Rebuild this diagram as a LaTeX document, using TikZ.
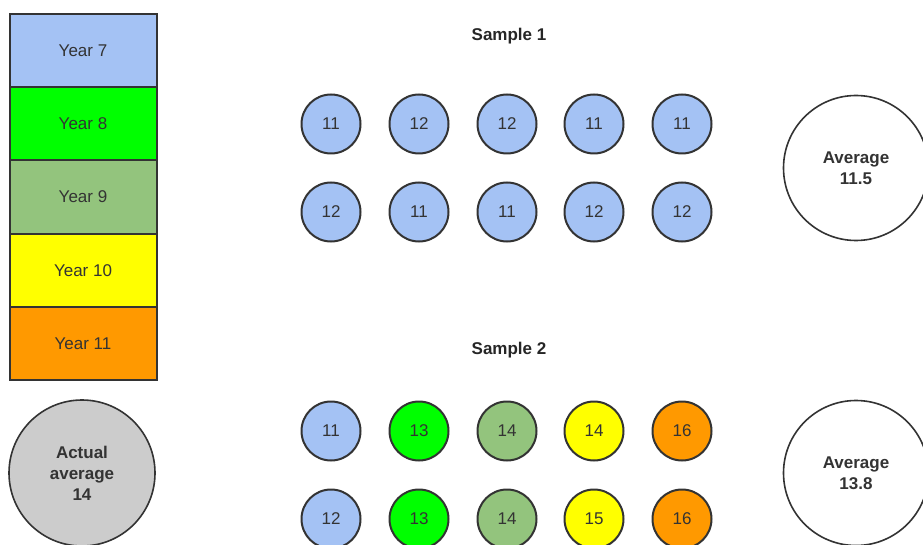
\documentclass[tikz,border=0pt]{standalone}
\usepackage{fontspec}
\setmainfont{Liberation Sans}
\usepackage{tikz}
\usetikzlibrary{positioning}
\definecolor{yearseven}{RGB}{164,194,244}
\definecolor{yeareight}{RGB}{0,255,0}
\definecolor{yearnine}{RGB}{147,196,125}
\definecolor{yearten}{RGB}{255,255,0}
\definecolor{yeareleven}{RGB}{255,153,0}
\definecolor{actualgray}{RGB}{204,204,204}
\definecolor{edgegray}{RGB}{51,51,51}

\begin{document}
\begin{tikzpicture}[x=1pt, y=-1pt,
    yearbox/.style={rectangle, draw=edgegray, line width=2pt, outer sep=0pt, minimum height=73.2pt, minimum width=147pt, text=edgegray, font=\fontsize{17}{21}\selectfont},
    pupil/.style={circle, draw=edgegray, line width=2pt, minimum size=59pt, inner sep=0pt, text=edgegray, font=\fontsize{17}{21}\selectfont},
    avg/.style={circle, draw=edgegray, line width=1.6pt, minimum size=145pt, inner sep=0pt, align=center, text=edgegray, font=\bfseries\fontsize{17}{21}\selectfont},
    heading/.style={text=black!85, font=\bfseries\fontsize{17}{21}\selectfont}]

\useasboundingbox (0,0) rectangle (923,545);

% year groups
\node[yearbox, fill=yearseven] (y7) at (83,50.6) {Year 7};
\node[yearbox, fill=yeareight, below=0pt of y7] (y8) {Year 8};
\node[yearbox, fill=yearnine, below=0pt of y8] (y9) {Year 9};
\node[yearbox, fill=yearten, below=0pt of y9] (y10) {Year 10};
\node[yearbox, fill=yeareleven, below=0pt of y10] (y11) {Year 11};

\node[avg, fill=actualgray, minimum size=146pt] (actual) at (82,473) {Actual\\average\\14};

% sample 1
\node[heading] (head1) at (509,36) {Sample 1};
\node[pupil, fill=yearseven] (sa1) at (331,124) {11};
\node[pupil, fill=yearseven] (sa2) at (419,124) {12};
\node[pupil, fill=yearseven] (sa3) at (507,124) {12};
\node[pupil, fill=yearseven] (sa4) at (594,124) {11};
\node[pupil, fill=yearseven] (sa5) at (682,124) {11};
\node[pupil, fill=yearseven] (sa6) at (331,212) {12};
\node[pupil, fill=yearseven] (sa7) at (419,212) {11};
\node[pupil, fill=yearseven] (sa8) at (507,212) {11};
\node[pupil, fill=yearseven] (sa9) at (594,212) {12};
\node[pupil, fill=yearseven] (sa10) at (682,212) {12};
\node[avg, fill=white] (avg1) at (856,168) {Average\\11.5};

% sample 2
\node[heading] (head2) at (509,350) {Sample 2};
\node[pupil, fill=yearseven] (sb1) at (331,431) {11};
\node[pupil, fill=yeareight] (sb2) at (419,431) {13};
\node[pupil, fill=yearnine] (sb3) at (507,431) {14};
\node[pupil, fill=yearten] (sb4) at (594,431) {14};
\node[pupil, fill=yeareleven] (sb5) at (682,431) {16};
\node[pupil, fill=yearseven] (sb6) at (331,519) {12};
\node[pupil, fill=yeareight] (sb7) at (419,519) {13};
\node[pupil, fill=yearnine] (sb8) at (507,519) {14};
\node[pupil, fill=yearten] (sb9) at (594,519) {15};
\node[pupil, fill=yeareleven] (sb10) at (682,519) {16};
\node[avg, fill=white] (avg2) at (856,473) {Average\\13.8};

\end{tikzpicture}
\end{document}
